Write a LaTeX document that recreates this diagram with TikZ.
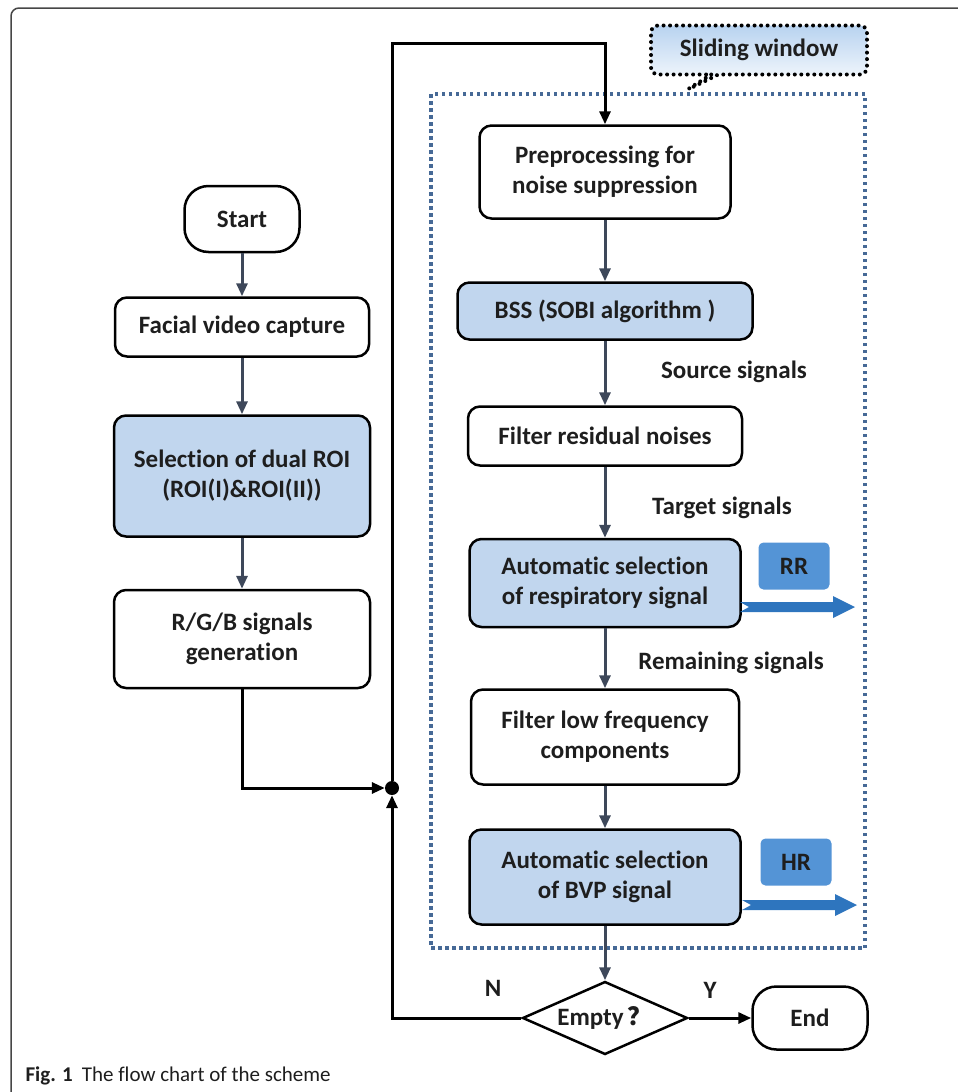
\documentclass[tikz,border=0pt]{standalone}
\usepackage{fontspec}
\setmainfont{Carlito}[Ligatures=NoCommon]
\newfontfamily\cjk{Noto Sans CJK SC}
\usetikzlibrary{positioning}
\usetikzlibrary{arrows.meta}
\usetikzlibrary{shapes.geometric}
\usetikzlibrary{shapes.callouts}

\definecolor{boxblue}{RGB}{193,214,238}
\definecolor{tagblue}{RGB}{84,148,214}
\definecolor{arrowblue}{RGB}{46,117,190}
\definecolor{slate}{RGB}{62,72,90}
\definecolor{windowblue}{RGB}{70,105,150}
\definecolor{calloutblue}{RGB}{184,211,240}
\definecolor{framegray}{RGB}{70,70,70}
\definecolor{ink}{RGB}{30,30,30}

\begin{document}
\begin{tikzpicture}[x=1pt,y=-1pt,
	box/.style={draw=black, line width=2.5pt, rounded corners=12pt, align=center, inner sep=0pt,
		text=ink, font=\fontsize{25}{30}\selectfont\bfseries},
	bluebox/.style={box, fill=boxblue},
	lbl/.style={text=ink, font=\fontsize{25}{30}\selectfont\bfseries},
	tag/.style={fill=tagblue, rounded corners=5pt, minimum width=71pt, minimum height=47pt,
		text=ink, font=\fontsize{25}{30}\selectfont\bfseries},
	flow/.style={draw=slate, line width=3pt, -{Triangle[length=13pt,width=11pt]}},
	backline/.style={draw=black, line width=3pt, -{Triangle[length=13pt,width=11pt]}},
	tagarrow/.style={fill=arrowblue},
	windowbox/.style={draw=windowblue, line width=3.5pt, dash pattern=on 3.5pt off 3.5pt}]
		\useasboundingbox (0,0) rectangle (958,1092);

		% Frame of the figure
		\draw[framegray, line width=1.5pt, rounded corners=8pt] (11,1092) -- (11,8) -- (958,8);

		% Sliding window and its callout
		\draw[windowbox] (431,94) rectangle (865,948);
		\node[rectangle callout, callout absolute pointer={(685,91)}, draw=black, line width=4pt,
			dash pattern=on 0pt off 6.5pt, line cap=round, rounded corners=7pt,
			top color=calloutblue, bottom color=white, minimum width=216pt, minimum height=49pt,
			lbl] (slide) at (759,50) {Sliding window};

		% Left column
		\node[box, minimum width=115pt, minimum height=66pt, rounded corners=24pt] (start) at (242,219) {Start};
		\node[box, minimum width=254pt, minimum height=59pt] (capture) at (242,327) {Facial video capture};
		\node[bluebox, minimum width=256pt, minimum height=121pt] (roi) at (242,476) {Selection of dual ROI\\(ROI(I)\&ROI(II))};
		\node[box, minimum width=256pt, minimum height=98pt] (rgb) at (242,639) {R/G/B signals\\generation};

		% Right column
		\node[box, minimum width=251pt, minimum height=93pt] (prep) at (605,172) {Preprocessing for\\noise suppression};
		\node[bluebox, minimum width=295pt, minimum height=57pt] (bss) at (605,311) {BSS (SOBI algorithm )};
		\node[box, minimum width=274pt, minimum height=59pt] (resid) at (605,436) {Filter residual noises};
		\node[bluebox, minimum width=271pt, minimum height=88pt] (resp) at (605,583) {Automatic selection\\of respiratory signal};
		\node[box, minimum width=268pt, minimum height=95pt] (low) at (605,737) {Filter low frequency\\components};
		\node[bluebox, minimum width=271pt, minimum height=95pt] (bvp) at (605,877) {Automatic selection\\of BVP signal};
		\node[draw=black, line width=2.5pt, diamond, aspect=2.26, inner sep=0pt, minimum width=165pt,
			minimum height=73pt, lbl] (empty) at (605,1018) {Empty\hspace{4pt}{\cjk ？}\hspace{-12pt}};
		\node[box, minimum width=115pt, minimum height=63pt, rounded corners=24pt] (end) at (810,1018) {End};

		% Labels on the arrows
		\node[lbl] (srclbl) at (734,372) {Source signals};
		\node[lbl] (tgtlbl) at (722,508) {Target signals};
		\node[lbl] (remlbl) at (731,663) {Remaining signals};
		\node[lbl] (nlbl) at (493,988) {N};
		\node[lbl] (ylbl) at (710,990) {Y};

		% Outputs
		\node[tag] (rr) at (794,566) {RR};
		\node[tag] (hr) at (796,862) {HR};
		\coordinate (rrtail) at (740,607);
		\coordinate (hrtail) at (742,905);
		\foreach \tail in {rrtail, hrtail}
		\fill[tagarrow] (\tail) ++(0,-5) -- ++(93,0) -- ++(0,-6) -- ++(22,11) -- ++(-22,11)
			-- ++(0,-6) -- ++(-93,0) -- ++(9,-5) -- cycle;

		% Junction and loop
		\node[circle, fill=black, inner sep=0pt, minimum size=14pt] (joint) at (392,788) {};
		\coordinate (looptop) at (392,43);

		% Draw the arrows
		\draw[flow] (start) -- (capture);
		\draw[flow] (capture) -- (roi);
		\draw[flow] (roi) -- (rgb);
		\draw[flow] (prep) -- (bss);
		\draw[flow] (bss) -- (resid);
		\draw[flow] (resid) -- (resp);
		\draw[flow] (resp) -- (low);
		\draw[flow] (low) -- (bvp);
		\draw[flow] (bvp) -- (empty);
		\draw[backline] (rgb.south) |- (joint);
		\draw[backline] (empty.west) -| (joint);
		\draw[backline] (joint) -- (looptop) -| (prep.north);
		\draw[backline] (empty.east) -- (end.west);

		% Caption
		\node[anchor=west, text=ink, font=\fontsize{21}{25}\selectfont] (caption) at (22,1076)
			{\textbf{Fig. 1}\hspace{9pt}The flow chart of the scheme};
	\end{tikzpicture}
\end{document}
